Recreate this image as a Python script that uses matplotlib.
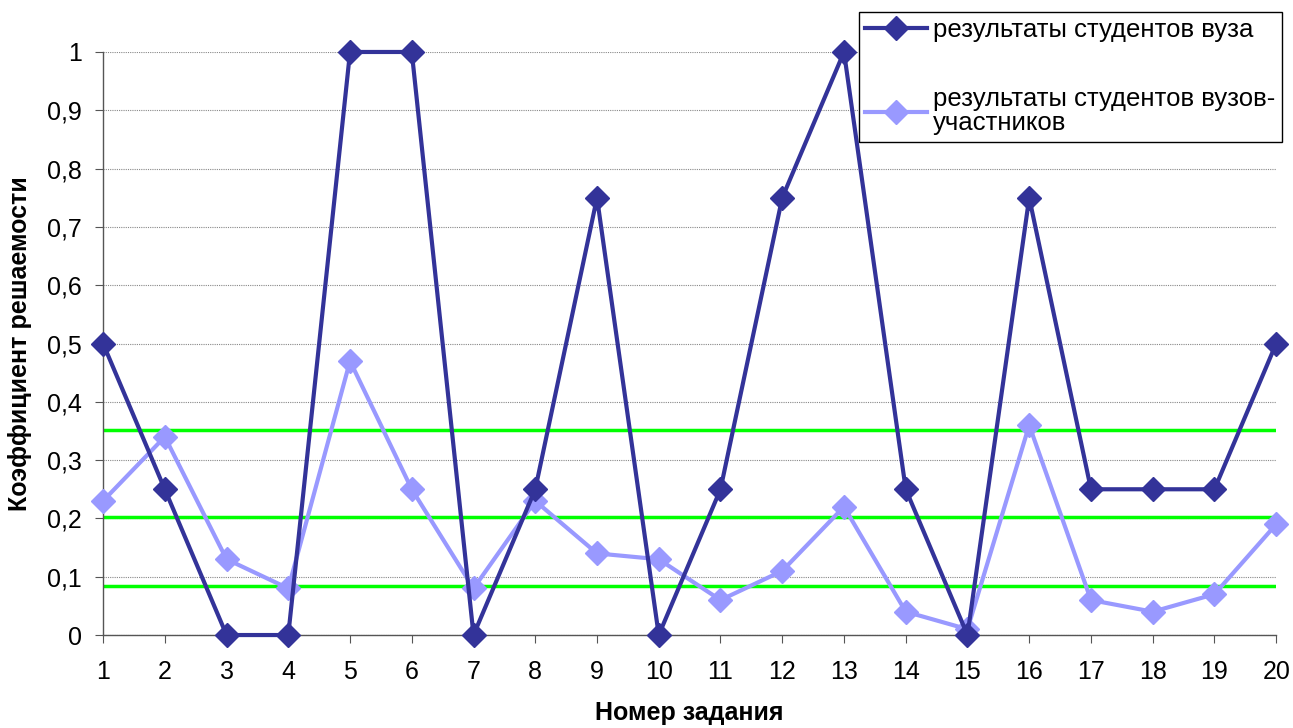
import numpy as np
import matplotlib.pyplot as plt
from matplotlib import rcParams
from matplotlib.ticker import FuncFormatter

# ── Style ─────────────────────────────────────────────────────────────────────
rcParams.update({
    "font.family":      ["Liberation Sans", "DejaVu Sans"],
    "font.size":        18,
    "axes.linewidth":   1.0,
    "xtick.labelsize":  18,
    "ytick.labelsize":  18,
})

C_UNI   = "#333399"
C_ALL   = "#9999FF"
C_GREEN = "#00FF00"

# ── Data ──────────────────────────────────────────────────────────────────────
tasks = list(range(1, 21))
uni_scores = [0.50, 0.25, 0.00, 0.00, 1.00, 1.00, 0.00, 0.25, 0.75, 0.00,
              0.25, 0.75, 1.00, 0.25, 0.00, 0.75, 0.25, 0.25, 0.25, 0.50]
all_scores = [0.23, 0.34, 0.13, 0.08, 0.47, 0.25, 0.08, 0.23, 0.14, 0.13,
              0.06, 0.11, 0.22, 0.04, 0.01, 0.36, 0.06, 0.04, 0.07, 0.19]
levels = [0.352, 0.202, 0.084]
y_ticks = [i / 10 for i in range(11)]

label_uni = "результаты студентов вуза"
label_all = "результаты студентов вузов-\nучастников"

# ── Plot ──────────────────────────────────────────────────────────────────────
fig = plt.figure(figsize=(12.93, 7.28), dpi=100)
ax = fig.add_axes([0.0797, 0.1277, 0.9073, 0.8009])

for lv in levels:
    ax.axhline(lv, color=C_GREEN, lw=2.5, zorder=2)

ax.plot(tasks, uni_scores, color=C_UNI, lw=3, marker="D", ms=12,
        label=label_uni, clip_on=False, zorder=4)
ax.plot(tasks, all_scores, color=C_ALL, lw=3, marker="D", ms=12,
        label=label_all, clip_on=False, zorder=3)

ax.set_xlim(1, 20)
ax.set_ylim(0, 1)
ax.set_xticks(tasks)
ax.set_yticks(y_ticks)
ax.yaxis.set_major_formatter(
    FuncFormatter(lambda v, _: ("%g" % round(v, 1)).replace(".", ",")))
ax.grid(axis="y", color="#888888", ls=(0, (1, 1)), lw=0.8, zorder=1)

for s in ("top", "right"):
    ax.spines[s].set_visible(False)
for s in ("left", "bottom"):
    ax.spines[s].set_color("#555555")
ax.tick_params(axis="both", direction="out", length=6, color="#555555")
ax.tick_params(axis="x", pad=12)
ax.tick_params(axis="y", pad=9)

ax.set_xlabel("Номер задания", fontweight="bold", fontsize=18, labelpad=12)
ax.set_ylabel("Коэффициент решаемости", fontweight="bold", fontsize=18,
              labelpad=11)

leg = fig.legend(loc="upper right", bbox_to_anchor=(0.9915, 0.9835),
                 frameon=True, fancybox=False, edgecolor="black",
                 framealpha=1, fontsize=18.5, labelspacing=1.75,
                 handlelength=2.4, handletextpad=0.25, borderpad=0.25,
                 borderaxespad=0.0)
leg.get_frame().set_linewidth(1.0)
for t in leg.get_texts():
    t.set_linespacing(1.0)

plt.savefig("out.png", dpi=100)
